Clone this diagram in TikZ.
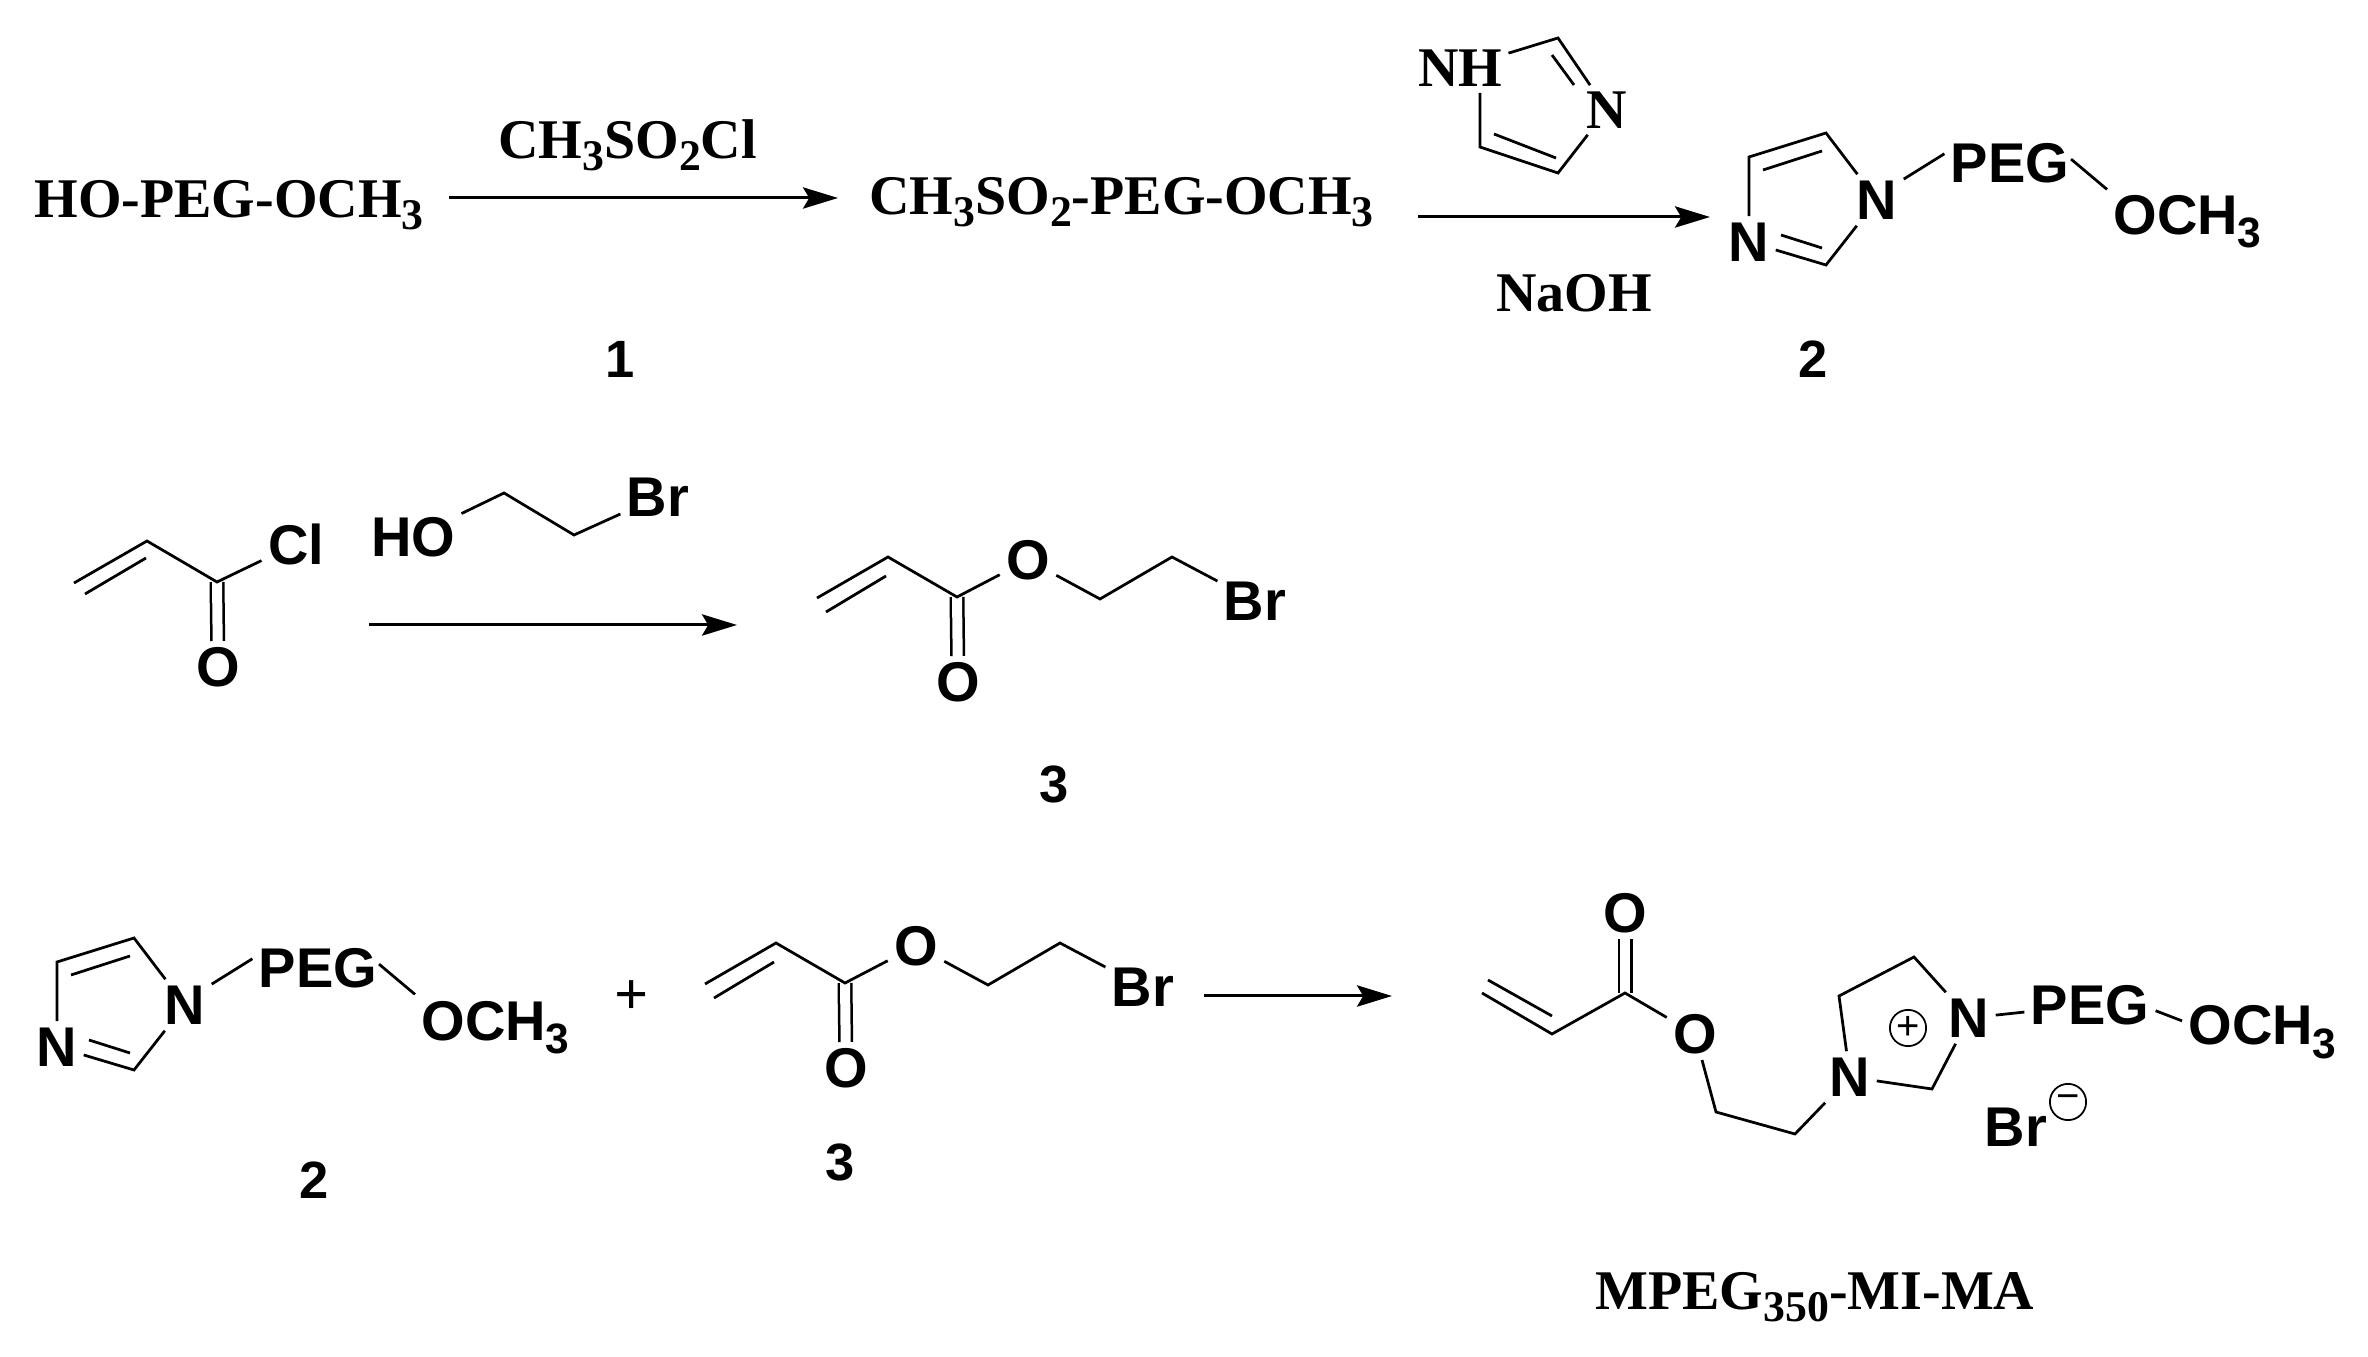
\documentclass[tikz,border=0pt]{standalone}
\usepackage{fontspec}
\setmainfont{Liberation Serif}
\setsansfont{Liberation Sans}
\usetikzlibrary{arrows.meta}
\newcommand{\lowt}[1]{\raisebox{-4.8pt}{\fontsize{17.5}{17.5}\selectfont #1}}
\newcommand{\lows}[1]{\raisebox{-5.2pt}{\fontsize{17}{17}\selectfont #1}}
\tikzset{
    %Define standard arrow tip
    >={Stealth[length=14pt,width=8.5pt,inset=2.5pt]},
    %Define style for atoms
    atom/.style={
           inner sep=2.4pt,
           text depth=0pt,
           font=\sffamily\bfseries\fontsize{22.4}{24}\selectfont},
    atomserif/.style={
           inner sep=2.4pt,
           text depth=0pt,
           font=\bfseries\fontsize{22.4}{24}\selectfont},
    %Define style for texts
    formula/.style={
           anchor=base west,
           inner sep=0pt,
           font=\bfseries\fontsize{22.4}{24}\selectfont},
    tail/.style={
           anchor=base west,
           inner sep=2.4pt,
           font=\sffamily\bfseries\fontsize{22.4}{24}\selectfont},
    compound/.style={
           anchor=base,
           inner sep=0pt,
           font=\sffamily\bfseries\fontsize{21}{24}\selectfont},
    charge/.style={
           circle,
           draw=black,
           line width=.7pt,
           inner sep=0pt,
           minimum size=14.5pt,
           font=\sffamily\fontsize{16}{16}\selectfont},
    % Define bond and arrow styles
    bond/.style={line width=1.1pt},
    carbonyl/.style={line width=1pt,double,double distance=4pt},
    pil/.style={->,line width=1.2pt},
    % imidazole ring with PEG arm, placed by its N
    imidpeg/.pic={
        \node[atom] (-n1) at (0,0) {N};
        \node[atom] (-n3) at (-128,42) {N};
        \node[atom] (-peg) at (133,-37) {PEG};
        \node[tail] (-och) at (230,35) {OCH\lows{3}};
        \coordinate (-c5) at (-51,-67);
        \coordinate (-c4) at (-128,-43);
        \coordinate (-c2) at (-51,65);
        \coordinate (-ia) at (-55,-49);
        \coordinate (-ib) at (-114,-30);
        \coordinate (-ic) at (-96,35);
        \coordinate (-id) at (-55,48);
        \draw[bond] (-n1) -- (-c5) -- (-c4) -- (-n3);
        \draw[bond] (-n1) -- (-c2) -- (-n3);
        \draw[bond] (-ia) -- (-ib);
        \draw[bond] (-ic) -- (-id);
        \draw[bond] (-n1.38) -- (-peg.172);
        \draw[bond,shorten <=-2.4pt] (-peg.east) -- (-och.north west);
    },
    % bromoethyl acrylate, placed by its ester O
    bromoester/.pic={
        \node[atom] (-o) at (0,0) {O};
        \node[atom] (-ox) at (-70,122) {O};
        \node[atom] (-br) at (227,41) {Br};
        \coordinate (-c1) at (-71,37);
        \coordinate (-c2) at (-140,-3);
        \coordinate (-c3) at (-211,38);
        \coordinate (-ia) at (-142,16);
        \coordinate (-ib) at (-202,52);
        \coordinate (-c4) at (72,39);
        \coordinate (-c5) at (144,-3);
        \draw[carbonyl] (-c1) -- (-ox);
        \draw[bond] (-c3) -- (-c2) -- (-c1) -- (-o);
        \draw[bond] (-ia) -- (-ib);
        \draw[bond] (-o) -- (-c4) -- (-c5) -- (-br);
    }
}
\begin{document}
\begin{tikzpicture}[x=.4pt,y=-.4pt]
\useasboundingbox (0,0) rectangle (2368,1357);
 %first row
\node[formula] (hopeg) at (34,218) {HO-PEG-OCH\lowt{3}};
\node[formula] (mscl) at (498,159) {CH\lowt{3}SO\lowt{2}Cl};
\node[formula] (mspeg) at (869,215) {CH\lowt{3}SO\lowt{2}-PEG-OCH\lowt{3}};
\node[compound] (one) at (620,378) {1};
\node[formula] (naoh) at (1496,312) {NaOH};
\coordinate (a1s) at (449,198);
\coordinate (a1e) at (838,198);
\coordinate (a2s) at (1418,217);
\coordinate (a2e) at (1710,217);
\draw[pil] (a1s) -- (a1e);
\draw[pil] (a2s) -- (a2e);
 %imidazole
\node[atomserif] (nh) at (1460,68) {NH};
\node[atomserif] (nb) at (1607,110) {N};
\coordinate (ca) at (1558,38);
\coordinate (cb) at (1558,173);
\coordinate (cc) at (1480,147);
\coordinate (ia) at (1552,55);
\coordinate (ib) at (1574,85);
\coordinate (ic) at (1556,158);
\coordinate (id) at (1494,134);
\draw[bond] (nh) -- (ca) -- (nb) -- (cb) -- (cc) -- (cc |- nh.south);
\draw[bond] (ia) -- (ib);
\draw[bond] (ic) -- (id);
\pic (ra) at (1877,200) {imidpeg};
\node[compound] (two) at (1813,378) {2};
 %second row
\node[atom] (cl) at (296,544) {Cl};
\node[atom] (oa) at (218,667) {O};
\coordinate (va) at (74,583);
\coordinate (vb) at (147,541);
\coordinate (vc) at (217,582);
\coordinate (vd) at (85,594);
\coordinate (ve) at (146,558);
\draw[carbonyl] (vc) -- (oa);
\draw[bond] (va) -- (vb) -- (vc) -- (cl);
\draw[bond] (vd) -- (ve);
\node[atom] (ho) at (413,537) {HO};
\node[atom] (bra) at (658,497) {Br};
\coordinate (ea) at (504,493);
\coordinate (eb) at (574,535);
\draw[bond] (ho) -- (ea) -- (eb) -- (bra);
\coordinate (a3s) at (369,625);
\coordinate (a3e) at (737,625);
\draw[pil] (a3s) -- (a3e);
\pic (pa) at (1028,560) {bromoester};
\node[compound] (three) at (1054,803) {3};
 %third row
\pic (rb) at (185,1005) {imidpeg};
\node[compound] (twob) at (314,1198) {2};
\node[inner sep=0pt,font=\bfseries\fontsize{24}{24}\selectfont] (plus) at (632,998) {+};
\pic (pb) at (916,946) {bromoester};
\node[compound] (threeb) at (840,1180) {3};
\coordinate (a4s) at (1204,996);
\coordinate (a4e) at (1392,996);
\draw[pil] (a4s) -- (a4e);
 %product
\node[atom] (ob) at (1625,913) {O};
\node[atom] (oc) at (1695,1034) {O};
\node[atom] (nl) at (1850,1077) {N};
\node[atom] (nr) at (1969,1018) {N};
\node[atom] (pegb) at (2090,1005) {PEG};
\node[tail] (ochb) at (2182,1045) {OCH\lows{3}};
\node[atom] (brb) at (2016,1127) {Br};
\node[charge] (pos) at (1908,1028) {+};
\node[charge] (neg) at (2068,1102) {−};
\coordinate (fa) at (1625,993);
\coordinate (fb) at (1552,1034);
\coordinate (fc) at (1482,993);
\coordinate (fd) at (1552,1016);
\coordinate (fe) at (1488,980);
\coordinate (ga) at (1716,1112);
\coordinate (gb) at (1795,1134);
\coordinate (rf) at (1839,996);
\coordinate (rc) at (1914,957);
\coordinate (rd) at (1932,1089);
\draw[carbonyl] (fa) -- (ob);
\draw[bond] (fc) -- (fb) -- (fa) -- (oc) -- (ga) -- (gb) -- (nl);
\draw[bond] (fd) -- (fe);
\draw[bond] (nl) -- (rf) -- (rc) -- (nr) -- (rd) -- (nl);
\draw[bond] (nr) -- (pegb);
\draw[bond] (pegb.-5) -- (ochb.172);
\node[formula] (mpeg) at (1595,1309) {MPEG\lowt{350}-MI-MA};
\end{tikzpicture}
\end{document}
